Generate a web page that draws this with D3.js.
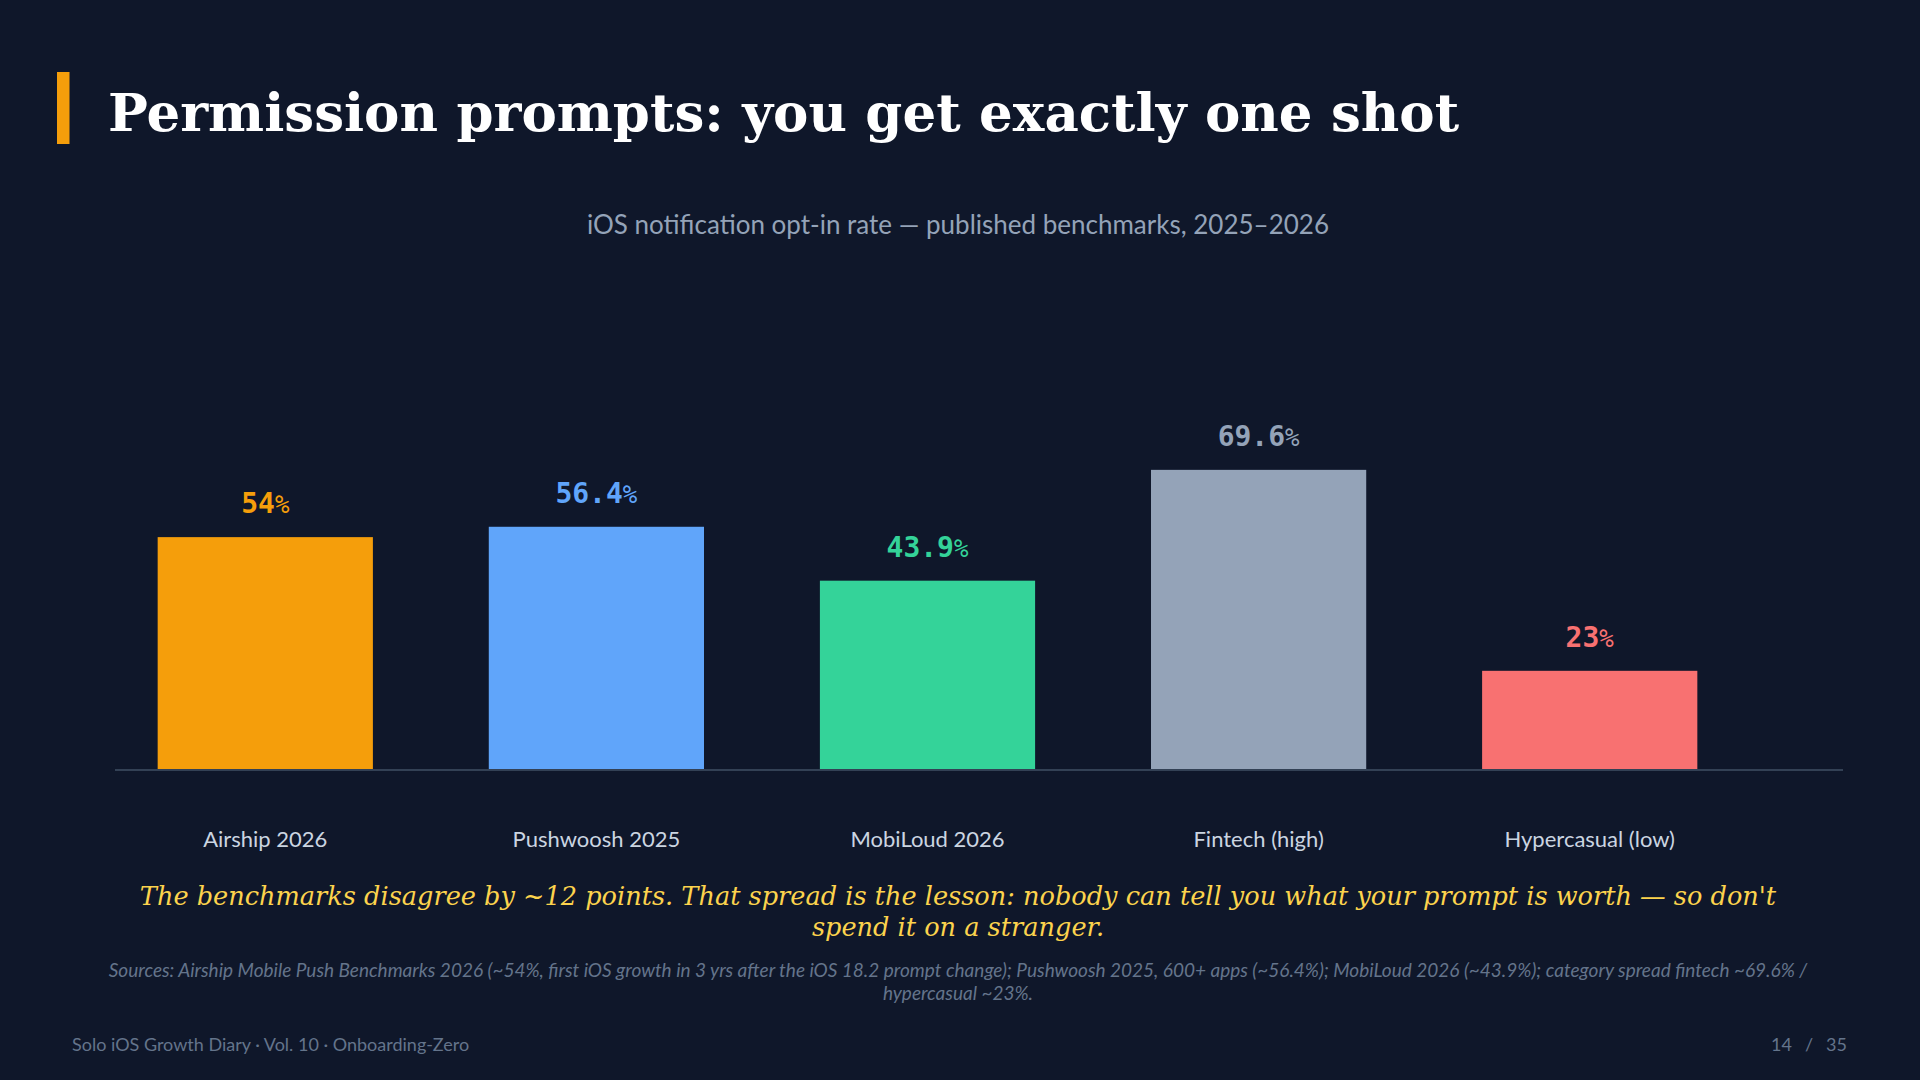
<!DOCTYPE html>
<html>
<head>
<meta charset="utf-8">
<script src="https://cdn.jsdelivr.net/npm/d3@7"></script>
<style>
  html, body { margin: 0; padding: 0; background: #0f172a; }
  svg { display: block; }
</style>
</head>
<body>
<svg id="chart" width="1920" height="1080"></svg>
<script>
const categories = ["Airship 2026", "Pushwoosh 2025", "MobiLoud 2026", "Fintech (high)", "Hypercasual (low)"];
const values = [54, 56.4, 43.9, 69.6, 23];
const colors = ["#f59e0b", "#60a5fa", "#34d399", "#94a3b8", "#f87171"];
const titleText = "Permission prompts: you get exactly one shot";
const subtitleText = "iOS notification opt-in rate \u2014 published benchmarks, 2025\u20132026";
const captionLines = [
  "The benchmarks disagree by ~12 points. That spread is the lesson: nobody can tell you what your prompt is worth \u2014 so don't",
  "spend it on a stranger."
];
const sourceLines = [
  "Sources: Airship Mobile Push Benchmarks 2026 (~54%, first iOS growth in 3 yrs after the iOS 18.2 prompt change); Pushwoosh 2025, 600+ apps (~56.4%); MobiLoud 2026 (~43.9%); category spread fintech ~69.6% /",
  "hypercasual ~23%."
];
const footerLeft = "Solo iOS Growth Diary \u00b7 Vol. 10 \u00b7 Onboarding-Zero";
const pageNum = ["14", "/", "35"];

const svg = d3.select("#chart");

svg.append("rect").attr("width", 1920).attr("height", 1080).attr("fill", "#0f172a");

// accent bar + title
svg.append("rect").attr("x", 57).attr("y", 72).attr("width", 12.5).attr("height", 72).attr("fill", "#f59e0b");
svg.append("text").attr("x", 108).attr("y", 131)
  .attr("font-family", "'DejaVu Serif', serif").attr("font-weight", "bold")
  .attr("font-size", 53).attr("fill", "#ffffff").text(titleText);

// subtitle
svg.append("text").attr("x", 958).attr("y", 234).attr("text-anchor", "middle")
  .attr("font-family", "Lato, sans-serif").attr("font-size", 26).attr("fill", "#94a3b8")
  .text(subtitleText);

// scales
const x = d3.scaleBand().domain(categories).range([108, 1747]).paddingInner(0.35).paddingOuter(0.15);
const y = d3.scaleLinear().domain([0, 80]).range([770, 425]);

const data = categories.map((c, i) => ({ c, v: values[i], color: colors[i] }));

// bars
svg.append("g").selectAll("rect").data(data).join("rect")
  .attr("x", d => x(d.c)).attr("width", x.bandwidth())
  .attr("y", d => y(d.v)).attr("height", d => y(0) - y(d.v))
  .attr("fill", d => d.color);

// baseline axis
svg.append("line").attr("x1", 115).attr("x2", 1843).attr("y1", y(0)).attr("y2", y(0))
  .attr("stroke", "#334155").attr("stroke-width", 2);

// value labels
const vl = svg.append("g").selectAll("text").data(data).join("text")
  .attr("x", d => x(d.c) + x.bandwidth() / 2).attr("y", d => y(d.v) - 24)
  .attr("text-anchor", "middle")
  .attr("font-family", "'DejaVu Sans Mono', monospace").attr("font-weight", "bold")
  .attr("font-size", 28).attr("fill", d => d.color);
vl.append("tspan").text(d => String(d.v));
vl.append("tspan").attr("font-size", "0.86em").attr("font-weight", "normal").text("%");

// category labels via axis
const xAxis = svg.append("g").attr("transform", `translate(0, ${y(0)})`)
  .call(d3.axisBottom(x).tickSize(0).tickPadding(0));
xAxis.select(".domain").remove();
xAxis.selectAll("text")
  .attr("y", 77).attr("dy", null)
  .attr("font-family", "Lato, sans-serif").attr("font-size", 22).attr("fill", "#cbd5e1");

// caption
svg.append("g").selectAll("text").data(captionLines).join("text")
  .attr("x", 958).attr("y", (d, i) => 905 + i * 31).attr("text-anchor", "middle")
  .attr("font-family", "'DejaVu Serif', serif").attr("font-style", "italic")
  .attr("font-size", 25.6).attr("fill", "#fcd34d").text(d => d);

// sources
svg.append("g").selectAll("text").data(sourceLines).join("text")
  .attr("x", 958).attr("y", (d, i) => 977 + i * 23).attr("text-anchor", "middle")
  .attr("font-family", "Lato, sans-serif").attr("font-style", "italic")
  .attr("font-size", 19).attr("fill", "#64748b").text(d => d);

// footer
svg.append("text").attr("x", 72).attr("y", 1051)
  .attr("font-family", "Lato, sans-serif").attr("font-size", 18).attr("fill", "#64748b")
  .text(footerLeft);
const pn = svg.append("text").attr("x", 1847).attr("y", 1051).attr("text-anchor", "end")
  .attr("font-family", "Lato, sans-serif").attr("font-size", 18).attr("fill", "#64748b");
pageNum.forEach((t, i) => pn.append("tspan").attr("dx", i === 0 ? 0 : 13).text(t));
</script>
</body>
</html>
